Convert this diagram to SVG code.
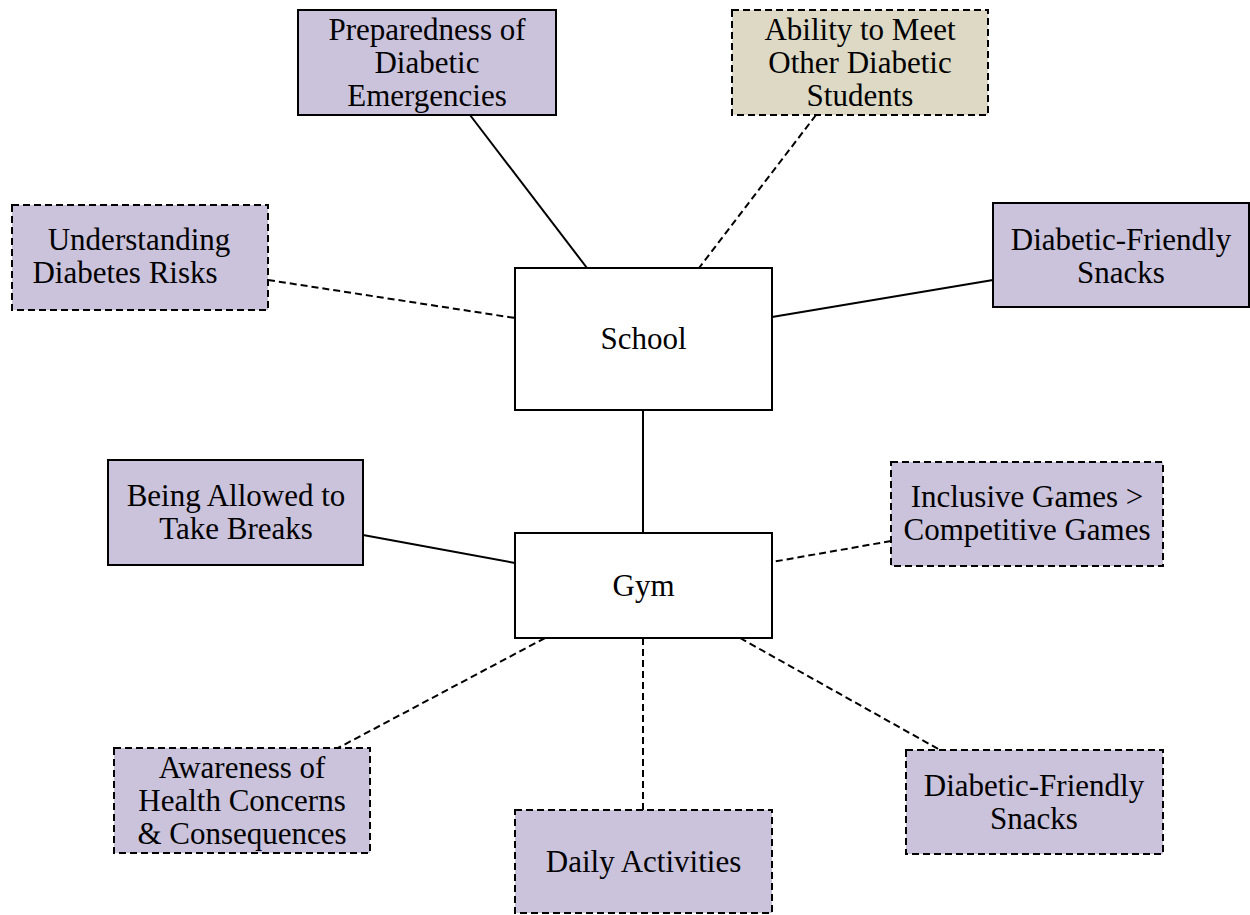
<svg xmlns="http://www.w3.org/2000/svg" width="1250" height="915" viewBox="0 0 1250 915">
  <style>
    .box { stroke: #000; stroke-width: 2; }
    .hub { fill: #ffffff; }
    .lilac { fill: #cbc3dc; }
    .sand { fill: #ddd9c4; }
    .dash { stroke-dasharray: 7 4; }
    .lbl { font-family: "Liberation Serif", "Times New Roman", serif; font-size: 31px; fill: #000; text-anchor: middle; }
    .edge { stroke: #000; stroke-width: 2; fill: none; }
  </style>
  <rect width="1250" height="915" fill="#ffffff"/>

  <g id="connectors">
    <line class="edge" x1="470" y1="115" x2="587" y2="268"/>
    <line class="edge dash" x1="816" y1="115" x2="699" y2="268"/>
    <line class="edge dash" x1="268" y1="280" x2="515" y2="318"/>
    <line class="edge" x1="993" y1="280" x2="772" y2="317"/>
    <line class="edge" x1="643" y1="410" x2="643" y2="533"/>
    <line class="edge" x1="363" y1="535" x2="515" y2="563"/>
    <line class="edge dash" x1="891" y1="541" x2="772" y2="562"/>
    <line class="edge dash" x1="545" y1="638" x2="338" y2="748"/>
    <line class="edge dash" x1="643" y1="638" x2="643" y2="810"/>
    <line class="edge dash" x1="740" y1="638" x2="940" y2="750"/>
  </g>

  <g id="school">
    <rect class="box hub" x="515" y="268" width="257" height="142"/>
    <text class="lbl" x="643.5" y="349">School</text>
  </g>

  <g id="gym">
    <rect class="box hub" x="515" y="533" width="257" height="105"/>
    <text class="lbl" x="643.5" y="596">Gym</text>
  </g>

  <g id="preparedness">
    <rect class="box lilac" x="298" y="10" width="258" height="105"/>
    <text class="lbl" x="427" y="40">Preparedness of</text>
    <text class="lbl" x="427" y="73">Diabetic</text>
    <text class="lbl" x="427" y="106">Emergencies</text>
  </g>

  <g id="meet-students">
    <rect class="box sand dash" x="732" y="10" width="256" height="105"/>
    <text class="lbl" x="860" y="40">Ability to Meet</text>
    <text class="lbl" x="860" y="73">Other Diabetic</text>
    <text class="lbl" x="860" y="106">Students</text>
  </g>

  <g id="understanding-risks">
    <rect class="box lilac dash" x="12" y="205" width="256" height="105"/>
    <text class="lbl" x="139" y="250">Understanding</text>
    <text class="lbl" x="125" y="283">Diabetes Risks</text>
  </g>

  <g id="snacks-school">
    <rect class="box lilac" x="993" y="203" width="256" height="104"/>
    <text class="lbl" x="1121" y="250">Diabetic-Friendly</text>
    <text class="lbl" x="1121" y="283">Snacks</text>
  </g>

  <g id="breaks">
    <rect class="box lilac" x="108" y="460" width="255" height="105"/>
    <text class="lbl" x="236" y="506">Being Allowed to</text>
    <text class="lbl" x="236" y="539">Take Breaks</text>
  </g>

  <g id="inclusive-games">
    <rect class="box lilac dash" x="891" y="462" width="272" height="104"/>
    <text class="lbl" x="1027" y="507">Inclusive Games &gt;</text>
    <text class="lbl" x="1027" y="540">Competitive Games</text>
  </g>

  <g id="awareness">
    <rect class="box lilac dash" x="114" y="748" width="256" height="105"/>
    <text class="lbl" x="242" y="778">Awareness of</text>
    <text class="lbl" x="242" y="811">Health Concerns</text>
    <text class="lbl" x="242" y="844">&amp; Consequences</text>
  </g>

  <g id="daily-activities">
    <rect class="box lilac dash" x="515" y="810" width="257" height="103"/>
    <text class="lbl" x="643.5" y="872">Daily Activities</text>
  </g>

  <g id="snacks-gym">
    <rect class="box lilac dash" x="906" y="750" width="257" height="104"/>
    <text class="lbl" x="1034" y="796">Diabetic-Friendly</text>
    <text class="lbl" x="1034" y="829">Snacks</text>
  </g>
</svg>
